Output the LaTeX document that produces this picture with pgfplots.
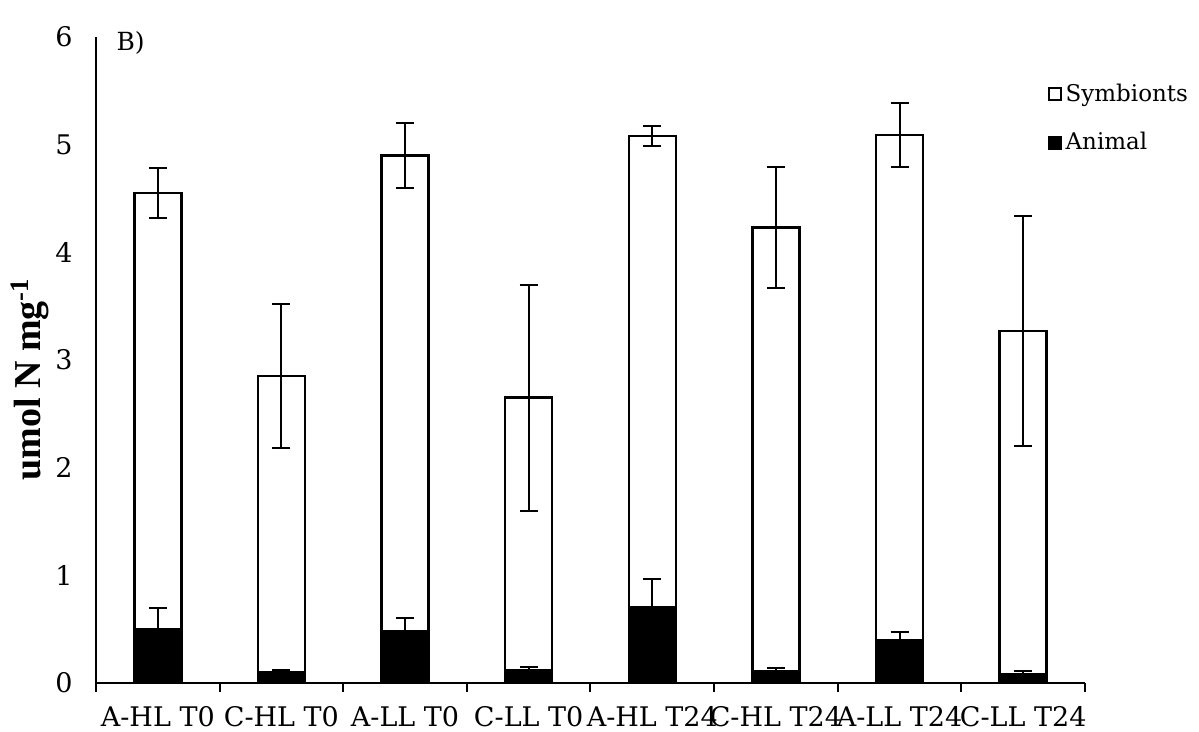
\documentclass[border=0pt]{standalone}
\usepackage{fontspec}
\setmainfont{DejaVu Serif}
\newfontfamily\timesf{Liberation Serif}
\usepackage{pgfplots}
\pgfplotsset{compat=1.18}
\begin{document}
\begin{tikzpicture}
\path[use as bounding box] (-48pt,-24.5pt) rectangle (551.5pt,341.5pt);
\begin{axis}[
  at={(0,0)}, anchor=south west,
  scale only axis, width=494.5pt, height=323pt,
  xmin=-0.5, xmax=7.5, ymin=0, ymax=6,
  axis lines=left,
  axis line style={-, line width=1pt},
  ytick={0,1,2,3,4,5,6},
  xtick={0,1,2,3,4,5,6,7},
  xticklabels={A-HL T0, C-HL T0, A-LL T0, C-LL T0, A-HL T24, C-HL T24, A-LL T24, C-LL T24},
  major tick style={draw=none},
  extra x ticks={-0.5,0.5,1.5,2.5,3.5,4.5,5.5,6.5,7.5},
  extra x tick labels={},
  extra x tick style={major tick style={draw=black, line width=1pt}, major tick length=4.5pt, tick align=outside},
  /pgf/number format/assume math mode=true,
  tick label style={font=\fontsize{13.5}{16}\selectfont},
  xticklabel style={yshift=-6pt},
  yticklabel style={xshift=-6pt},
  ylabel={\timesf\bfseries umol N mg\textsuperscript{-1}},
  ylabel style={at={(axis description cs:-0.067,0.47)}, anchor=center, font=\fontsize{19}{21}\selectfont},
  legend style={at={(rel axis cs:0.962,0.934)}, anchor=north west, draw=none, fill=none,
    font=\fontsize{11.5}{14}\selectfont, row sep=10pt, inner sep=0pt,
    /tikz/every even column/.append style={column sep=2pt}},
  legend cell align=left,
  clip=false,
]
\addplot[ybar, bar width=23.5pt, bar shift=0pt, fill=white, draw=black, line width=1.2pt,
  error bars/.cd, y dir=both, y explicit,
  error bar style={line width=1pt, black},
  error mark options={rotate=90, mark size=4.5pt, line width=1pt},
  /pgfplots/legend image code/.code={\draw[fill=white, draw=black, line width=0.9pt] (0pt,-3pt) rectangle (6pt,3pt);}]
coordinates {
  (0,4.55) +- (0,0.23)
  (1,2.85) +- (0,0.67)
  (2,4.90) +- (0,0.30)
  (3,2.65) +- (0,1.05)
  (4,5.08) +- (0,0.09)
  (5,4.23) +- (0,0.56)
  (6,5.09) +- (0,0.30)
  (7,3.27) +- (0,1.07)
};
\addlegendentry{Symbionts}
\addplot[ybar, bar width=23.5pt, bar shift=0pt, fill=black, draw=black, line width=1.2pt,
  error bars/.cd, y dir=plus, y explicit,
  error bar style={line width=1pt, black},
  error mark options={rotate=90, mark size=4.5pt, line width=1pt},
  /pgfplots/legend image code/.code={\draw[fill=black, draw=black, line width=0.9pt] (0pt,-3pt) rectangle (6pt,3pt);}]
coordinates {
  (0,0.50) +- (0,0.20)
  (1,0.10) +- (0,0.02)
  (2,0.48) +- (0,0.12)
  (3,0.12) +- (0,0.03)
  (4,0.70) +- (0,0.27)
  (5,0.11) +- (0,0.03)
  (6,0.40) +- (0,0.07)
  (7,0.08) +- (0,0.03)
};
\addlegendentry{Animal}
\node[font=\fontsize{12.5}{14}\selectfont] at (rel axis cs:0.035,0.99) {B)};
\end{axis}
\end{tikzpicture}
\end{document}
